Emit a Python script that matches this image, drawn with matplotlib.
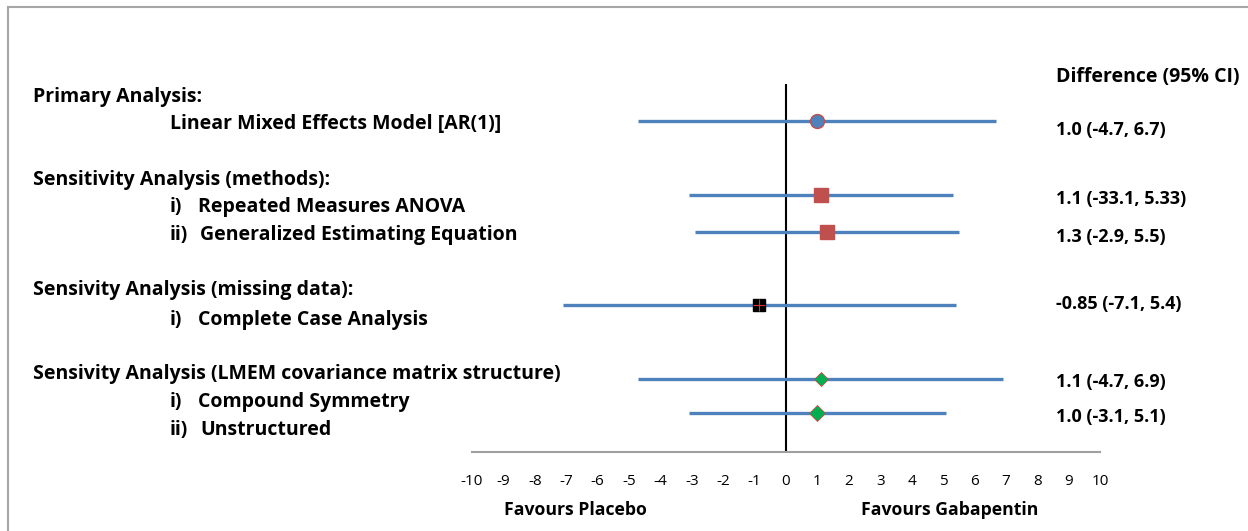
import matplotlib
matplotlib.use("Agg")
import matplotlib.pyplot as plt
from matplotlib.lines import Line2D

# ---- data ----
estimates = [1.0, 1.1, 1.3, -0.85, 1.1, 1.0]
lower = [-4.7, -3.1, -2.9, -7.1, -4.7, -3.1]
upper = [6.7, 5.33, 5.5, 5.4, 6.9, 5.1]
ci_labels = ["1.0 (-4.7, 6.7)", "1.1 (-33.1, 5.33)", "1.3 (-2.9, 5.5)",
             "-0.85 (-7.1, 5.4)", "1.1 (-4.7, 6.9)", "1.0 (-3.1, 5.1)"]
xticks = list(range(-10, 11))

# ---- layout (pixels from top of 1248x531 figure) ----
W, H = 1248, 531
row_y = [121, 195, 232, 305, 379, 413]
label_y = [128, 197, 235, 302, 380, 415]
markers = [
    dict(marker="o", ms=10, mfc="#4F81BD", mec="#C0504D", mew=1.0),
    dict(marker="s", ms=10, mfc="#C0504D", mec="#C0504D", mew=1.0),
    dict(marker="s", ms=10, mfc="#C0504D", mec="#C0504D", mew=1.0),
    dict(marker="s", ms=8, mfc="black", mec="black", mew=1.0),
    dict(marker="D", ms=7.5, mfc="#00B050", mec="#C0504D", mew=0.6),
    dict(marker="D", ms=8.5, mfc="#00B050", mec="#C0504D", mew=0.6),
]

FONT = "Open Sans"
plt.rcParams["font.family"] = [FONT, "DejaVu Sans"]

fig = plt.figure(figsize=(W / 100, H / 100), dpi=100)

# outer border (only top & left visible in the reference)
fig.add_artist(Line2D([8 / W, 8 / W], [0, 1 - 7 / H], transform=fig.transFigure,
                      color="#A6A6A6", lw=1.5))
fig.add_artist(Line2D([8 / W, 1], [1 - 7 / H, 1 - 7 / H], transform=fig.transFigure,
                      color="#A6A6A6", lw=1.5))

x_left, x_right = 472, 1100
y_top, y_bot = 84, 452
ax = fig.add_axes([x_left / W, 1 - y_bot / H, (x_right - x_left) / W, (y_bot - y_top) / H])
ax.set_xlim(-10, 10)
ax.set_ylim(y_bot, y_top)
for s in ["top", "right", "left"]:
    ax.spines[s].set_visible(False)
ax.spines["bottom"].set_color("#A0A0A0")
ax.spines["bottom"].set_linewidth(1.5)
ax.set_yticks([])
ax.set_xticks(xticks)
ax.set_xticklabels([str(t) for t in xticks], fontsize=11)
ax.tick_params(axis="x", length=0, pad=16, colors="black")
ax.patch.set_alpha(0)

ax.axvline(0, color="black", lw=1.5, zorder=2)

for est, lo, hi, y, mk in zip(estimates, lower, upper, row_y, markers):
    ax.plot([lo, hi], [y, y], color="#4F81BD", lw=2.4, solid_capstyle="butt", zorder=3)
    ax.plot([est], [y], linestyle="none", zorder=4, **mk)
# red cross on the complete-case marker
ax.plot([estimates[3]], [row_y[3]], marker="+", ms=8, mec="#E03030", mew=0.8,
        linestyle="none", zorder=5)

def ftext(x, y, s, **kw):
    y = y + 2
    fig.text(x / W, 1 - y / H, s, va="center", ha=kw.pop("ha", "left"),
             fontsize=kw.pop("fontsize", 14), fontweight="bold", **kw)

# left labels
ftext(33, 95, "Primary Analysis:")
ftext(170, 122, "Linear Mixed Effects Model [AR(1)]")
ftext(33, 178, "Sensitivity Analysis (methods):")
ftext(170, 205, "i)")
ftext(198, 205, "Repeated Measures ANOVA")
ftext(170, 233, "ii)")
ftext(200, 233, "Generalized Estimating Equation")
ftext(33, 288, "Sensivity Analysis (missing data):")
ftext(170, 318, "i)")
ftext(198, 318, "Complete Case Analysis")
ftext(33, 372, "Sensivity Analysis (LMEM covariance matrix structure)")
ftext(170, 400, "i)")
ftext(198, 400, "Compound Symmetry")
ftext(170, 428, "ii)")
ftext(200, 428, "Unstructured")

# right column
ftext(1056, 75, "Difference (95% CI)")
for s, y in zip(ci_labels, label_y):
    ftext(1056, y, s, fontsize=13)

ftext(575, 508, "Favours Placebo", ha="center", fontsize=12.7)
ftext(950, 508, "Favours Gabapentin", ha="center", fontsize=12.7)

fig.savefig("out.png", dpi=100)
